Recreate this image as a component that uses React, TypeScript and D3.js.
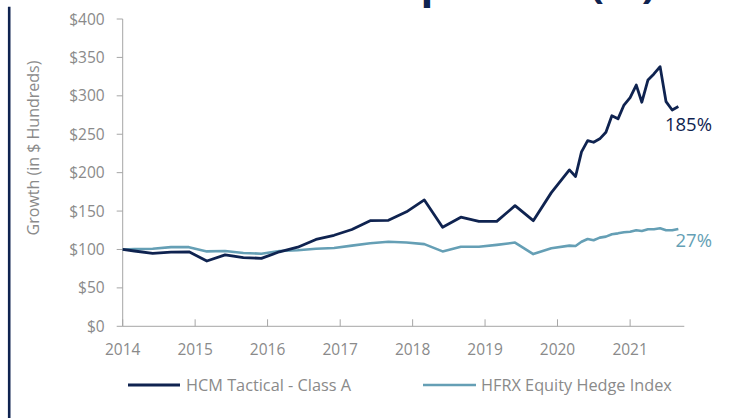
import React from "react";
import * as d3 from "d3";

const dates: string[] = [
  "2014-01", "2014-03", "2014-06", "2014-09", "2014-12",
  "2015-03", "2015-06", "2015-09", "2015-12",
  "2016-03", "2016-06", "2016-09", "2016-12",
  "2017-03", "2017-06", "2017-09", "2017-12",
  "2018-03", "2018-06", "2018-09", "2018-12",
  "2019-03", "2019-06", "2019-09", "2019-12",
  "2020-03", "2020-04", "2020-05", "2020-06", "2020-07", "2020-08",
  "2020-09", "2020-10", "2020-11", "2020-12",
  "2021-01", "2021-02", "2021-03", "2021-04", "2021-05", "2021-06",
  "2021-07", "2021-08", "2021-09",
];

const hcmValues: number[] = [
  100, 98, 95, 96.5, 97,
  85, 93, 89.5, 88.5,
  97, 103, 113, 118.5,
  126, 137.5, 138, 149,
  164.5, 129, 142, 136.5,
  136.5, 157, 137.5, 174,
  203.6, 195, 227, 241.7, 239.6, 244,
  252.6, 274, 270, 288,
  297.7, 314, 291.7, 320.7, 328.5, 338,
  292.4, 281.6, 286,
];

const hfrxValues: number[] = [
  100, 100.5, 101, 103, 103,
  97.5, 98, 95.5, 94.5,
  98, 99, 101, 102,
  105, 108, 110, 109,
  107, 97.5, 103.5, 103.5,
  106, 109, 94, 101.5,
  105, 104.5, 110, 113.7, 112, 115.4,
  116.7, 119.8, 121, 122.4,
  123, 125, 124, 126.3, 126.3, 127.6,
  125, 125, 126.7,
];

const yTicks: number[] = [0, 50, 100, 150, 200, 250, 300, 350, 400];
const xTickYears: number[] = [2014, 2015, 2016, 2017, 2018, 2019, 2020, 2021];
const seriesNames: string[] = ["HCM Tactical - Class A", "HFRX Equity Hedge Index"];
const endLabels: string[] = ["185%", "27%"];

const NAVY = "#0f2350";
const LIGHT = "#659fb5";
const GRAY_TEXT = "#8a8a8a";
const AXIS = "#a6a6a6";
const FONT = "'Open Sans', 'Noto Sans', sans-serif";

export default function App() {
  const parse = d3.timeParse("%Y-%m");
  const pts = dates.map((d) => parse(d) as Date);

  const x = d3
    .scaleTime()
    .domain([new Date(2014, 0, 1), new Date(2021, 9, 1)])
    .range([122.7, 684.3]);
  const y = d3.scaleLinear().domain([0, 400]).range([326.3, 19]);

  const line = d3
    .line<number>()
    .x((_, i) => x(pts[i]))
    .y((v) => y(v));

  const x0 = x.range()[0];
  const x1 = x.range()[1];

  return (
    <svg
      width={748}
      height={418}
      style={{ position: "absolute", left: 0, top: 0, background: "#fff" }}
      fontFamily={FONT}
    >
      {/* cropped title fragment */}
      <text
        x={656}
        y={-2}
        textAnchor="end"
        fontSize={42}
        fontWeight={700}
        fill={NAVY}
      >
        Comparison (%)
      </text>

      {/* left accent bar */}
      <line x1={9.2} x2={9.2} y1={6.7} y2={418} stroke={NAVY} strokeWidth={2.6} />

      {/* y axis label */}
      <text
        transform={`translate(39,148) rotate(-90)`}
        textAnchor="middle"
        fontSize={16}
        fill={GRAY_TEXT}
      >
        Growth (in $ Hundreds)
      </text>

      {/* y axis */}
      <line x1={x0} x2={x0} y1={y(400)} y2={y(0)} stroke={AXIS} strokeWidth={1} />
      {yTicks.map((t) => (
        <g key={t}>
          <line x1={x0 - 6} x2={x0} y1={y(t)} y2={y(t)} stroke={AXIS} strokeWidth={1} />
          <text
            x={x0 - 18}
            y={y(t)}
            dy="0.36em"
            textAnchor="end"
            fontSize={15.5}
            fill={GRAY_TEXT}
          >
            {d3.format("$,.0f")(t)}
          </text>
        </g>
      ))}

      {/* x axis */}
      <line x1={x0} x2={x1} y1={y(0)} y2={y(0)} stroke={AXIS} strokeWidth={1} />
      {xTickYears.map((yr) => {
        const xp = x(new Date(yr, 0, 1));
        return (
          <g key={yr}>
            <line x1={xp} x2={xp} y1={y(0) - 7} y2={y(0)} stroke={AXIS} strokeWidth={1} />
            <text x={xp} y={354.5} textAnchor="middle" fontSize={15.5} fill={GRAY_TEXT}>
              {yr}
            </text>
          </g>
        );
      })}

      {/* series */}
      <path d={line(hfrxValues) || ""} fill="none" stroke={LIGHT} strokeWidth={2.6} strokeLinejoin="round" />
      <path d={line(hcmValues) || ""} fill="none" stroke={NAVY} strokeWidth={2.8} strokeLinejoin="round" />

      {/* end labels */}
      <text x={712} y={130.5} textAnchor="end" fontSize={18.5} fill={NAVY}>
        {endLabels[0]}
      </text>
      <text x={712} y={246.5} textAnchor="end" fontSize={18.5} fill={LIGHT}>
        {endLabels[1]}
      </text>

      {/* legend */}
      <line x1={128} x2={180} y1={385} y2={385} stroke={NAVY} strokeWidth={2.8} />
      <text x={186} y={390.5} fontSize={16.3} fill={GRAY_TEXT}>
        {seriesNames[0]}
      </text>
      <line x1={423} x2={476} y1={385} y2={385} stroke={LIGHT} strokeWidth={2.6} />
      <text x={481} y={390.5} fontSize={16.3} fill={GRAY_TEXT}>
        {seriesNames[1]}
      </text>
    </svg>
  );
}
